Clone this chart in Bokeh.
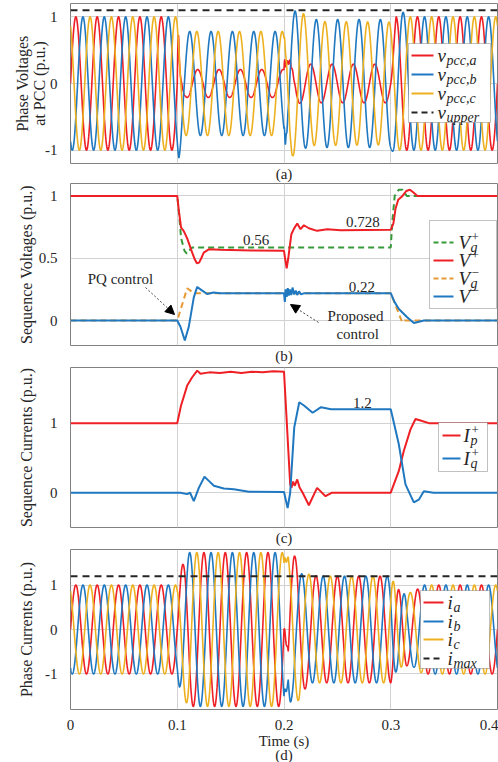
import numpy as np
from bokeh.plotting import figure
from bokeh.layouts import column
from bokeh.models import (Range1d, FixedTicker, Title, Label, BoxAnnotation,
                          Arrow, NormalHead, Span)
from bokeh.embed import file_html
from bokeh.resources import INLINE

# ---------------------------------------------------------------- data
FREQ_HZ = 50.0
T_STOP = 0.4
EVENT_TIMES = [0.1, 0.2, 0.3]
X_TICKS = [0, 0.1, 0.2, 0.3, 0.4]
X_TICK_LABELS = ["0", "0.1", "0.2", "0.3", "0.4"]

# (a) phase voltages at PCC : amplitude key points and phase (deg) per interval
VA_AMP_T = [0, 0.1, 0.103, 0.108, 0.2, 0.202, 0.21, 0.22, 0.3, 0.305, 0.4]
VA_AMP = [1.0, 1.0, 0.30, 0.21, 0.21, 0.35, 0.30, 0.29, 0.29, 1.0, 1.0]
VB_AMP_T = [0, 0.1, 0.1015, 0.106, 0.2, 0.204, 0.2115, 0.22, 0.23, 0.3, 0.302, 0.31, 0.32, 0.4]
VB_AMP = [1.0, 1.0, 1.12, 0.78, 0.78, 1.0, 1.1, 0.97, 0.96, 0.96, 1.05, 1.08, 1.0, 1.0]
VC_AMP_T = [0, 0.1, 0.105, 0.2, 0.205, 0.218, 0.226, 0.3, 0.305, 0.4]
VC_AMP = [1.0, 1.0, 0.78, 0.78, 1.1, 1.05, 0.93, 0.92, 1.0, 1.0]
VA_PHASE = [0, 105, 0, 0]
VB_PHASE = [-120, -120, -95, -120]
VC_PHASE = [120, 120, 120, 120]
V_PHASE_TRANS = [0.002, 0.003, 0.003]
V_UPPER = 1.1

# (b) sequence voltages
VGP_T = [0, 0.1, 0.1018, 0.1036, 0.1068, 0.109, 0.111, 0.114, 0.3, 0.3015, 0.3037, 0.3075, 0.311, 0.315, 0.4]
VGP = [1, 1, 0.85, 0.66, 0.56, 0.537, 0.56, 0.586, 0.586, 0.8, 1.0, 1.05, 1.05, 1.0, 1.0]
VP_T = [0, 0.1, 0.1015, 0.1036, 0.106, 0.1093, 0.114, 0.1165, 0.1184, 0.1205, 0.1225, 0.1248,
        0.1295, 0.14, 0.17, 0.2, 0.201, 0.2025, 0.204, 0.2069, 0.2095, 0.2124, 0.2155, 0.2186,
        0.2233, 0.231, 0.2405, 0.253, 0.3, 0.3025, 0.3045, 0.307, 0.311, 0.3145, 0.318, 0.321,
        0.325, 0.4]
VP = [1, 1, 0.88, 0.745, 0.72, 0.66, 0.545, 0.49, 0.46, 0.465, 0.5, 0.545,
      0.572, 0.568, 0.563, 0.56, 0.5, 0.42, 0.5, 0.693, 0.74, 0.779, 0.733, 0.765,
      0.741, 0.72, 0.733, 0.725, 0.728, 0.78, 0.9, 0.97, 1.0, 1.04, 1.05, 1.03,
      1.0, 1.0]
VGN_T = [0, 0.1, 0.1093, 0.1155, 0.3, 0.3107, 0.313, 0.4]
VGN = [0, 0, 0.26, 0.22, 0.22, -0.013, 0, 0]
VN_T = [0, 0.1, 0.103, 0.1071, 0.1108, 0.1155, 0.1187, 0.1234, 0.128, 0.134, 0.14, 0.2,
        0.2008, 0.2015, 0.2025, 0.2035, 0.2045, 0.2055, 0.2068, 0.208, 0.2095, 0.211,
        0.2124, 0.214, 0.216, 0.219, 0.3, 0.3035, 0.3076, 0.3154, 0.3217, 0.331, 0.4]
VN = [0, 0, -0.05, -0.16, -0.05, 0.186, 0.27, 0.24, 0.213, 0.226, 0.22, 0.22,
      0.15, 0.25, 0.19, 0.26, 0.2, 0.25, 0.205, 0.265, 0.21, 0.24,
      0.205, 0.235, 0.21, 0.22, 0.22, 0.15, 0.093, 0.027, -0.02, 0, 0]

# (c) sequence currents
IP_T = [0, 0.1, 0.1035, 0.1093, 0.114, 0.1187, 0.1218, 0.13, 0.14, 0.15, 0.16, 0.17, 0.18,
        0.19, 0.2, 0.2058, 0.207, 0.2085, 0.21, 0.2124, 0.2145, 0.2175, 0.2233, 0.231,
        0.2389, 0.245, 0.3, 0.3075, 0.3122, 0.3185, 0.3232, 0.3294, 0.3357, 0.4]
IP = [1, 1, 1.25, 1.54, 1.66, 1.755, 1.71, 1.73, 1.72, 1.74, 1.72, 1.74, 1.73,
      1.745, 1.74, 0.12, 0.07, 0.16, 0.1, 0.19, 0.08, 0.0, -0.18, 0.07,
      -0.05, 0.0, 0.0, 0.31, 0.6, 0.91, 1.06, 1.03, 1.0, 1.0]
IQ_T = [0, 0.1, 0.103, 0.1093, 0.112, 0.1155, 0.1202, 0.1255, 0.1296, 0.1343, 0.1436, 0.153,
        0.1671, 0.2, 0.2034, 0.2058, 0.2096, 0.2143, 0.219, 0.2268, 0.2347, 0.244, 0.3,
        0.3075, 0.3138, 0.3216, 0.3263, 0.331, 0.34, 0.4]
IQ = [0, 0, 0, -0.02, 0, -0.12, 0.07, 0.23, 0.17, 0.1, 0.06, 0.05,
      0.015, 0.01, -0.22, 0, 0.94, 1.3, 1.25, 1.15, 1.23, 1.2, 1.2,
      0.7, 0.12, -0.14, -0.1, 0.02, 0, 0]

# (d) phase currents
IA_AMP_T = [0, 0.1, 0.104, 0.11, 0.2, 0.205, 0.212, 0.222, 0.232, 0.3, 0.305, 0.312, 0.322, 0.33, 0.4]
IA_AMP = [1, 1, 1.4, 1.73, 1.73, 1.65, 1.65, 1.25, 1.2, 1.2, 0.95, 0.8, 0.85, 1.0, 1.0]
IB_AMP_T = [0, 0.1, 0.102, 0.11, 0.2, 0.204, 0.212, 0.222, 0.3, 0.305, 0.312, 0.322, 0.33, 0.4]
IB_AMP = [1, 1, 1.3, 1.73, 1.73, 1.75, 1.3, 1.2, 1.2, 0.95, 0.8, 0.85, 1.0, 1.0]
IC_AMP_T = [0, 0.1, 0.104, 0.11, 0.2, 0.205, 0.214, 0.222, 0.232, 0.3, 0.305, 0.312, 0.322, 0.33, 0.4]
IC_AMP = [1, 1, 1.4, 1.73, 1.73, 1.6, 1.6, 1.25, 1.2, 1.2, 0.95, 0.8, 0.85, 1.0, 1.0]
IA_PHASE = [0, 0, -90, 0]
IB_PHASE = [-120, -120, -210, -120]
IC_PHASE = [120, 120, 30, 120]
I_PHASE_TRANS = [0.002, 0.004, 0.015]
I_MAX = 1.2

# damped ringing after the events: (t0, amplitude, decay s, frequency Hz)
VA_RING = [(0.2, 0.12, 0.004, 400)]
VB_RING = [(0.2, 0.10, 0.003, 600)]
VC_RING = [(0.2, 0.06, 0.003, 500)]
IA_RING = [(0.2, 0.10, 0.004, 350)]
IB_RING = [(0.2, 0.12, 0.004, 300)]
IC_RING = [(0.2, 0.10, 0.004, 320)]

# ---------------------------------------------------------------- style
RED = "#ee2026"
BLUE = "#1f78c0"
YELLOW = "#edb120"
GREEN = "#379a3a"
ORANGE = "#e59a33"
BLACK = "#262626"
FONT = "Liberation Serif"
TXT = "#262626"

T = np.linspace(0.0, T_STOP, 4001)


def wave(amp_t, amp, phase, trans, ring):
    a = np.interp(T, amp_t, amp)
    kt, kv = [0.0], [phase[0]]
    for k, te in enumerate(EVENT_TIMES):
        kt += [te, te + trans[k]]
        kv += [phase[k], phase[k + 1]]
    kt.append(T_STOP)
    kv.append(phase[-1])
    ph = np.interp(T, kt, kv)
    y = a * np.sin(2 * np.pi * FREQ_HZ * T + np.radians(ph))
    for t0, amp0, tau, f in ring:
        m = T >= t0
        y[m] += amp0 * np.exp(-(T[m] - t0) / tau) * np.sin(2 * np.pi * f * (T[m] - t0))
    return y


FRAME_L, FRAME_W = 70, 427


def make_panel(yr, yticks, ylabels, ylabel, standoff, frame_h, top, bottom, letter):
    p = figure(frame_width=FRAME_W, frame_height=frame_h,
               x_range=Range1d(0, T_STOP), y_range=Range1d(*yr),
               output_backend="svg", toolbar_location=None,
               min_border=0, min_border_left=FRAME_L, min_border_right=1,
               min_border_top=top, min_border_bottom=bottom,
               background_fill_color="white", border_fill_color="white",
               outline_line_color="#808080", outline_line_width=1)
    p.yaxis.ticker = FixedTicker(ticks=yticks)
    p.yaxis.major_label_overrides = dict(zip(yticks, ylabels))
    p.yaxis.axis_label = ylabel
    p.yaxis.axis_label_standoff = standoff
    p.yaxis.axis_label_text_font = FONT
    p.yaxis.axis_label_text_font_size = "16px"
    p.yaxis.axis_label_text_font_style = "normal"
    p.yaxis.axis_label_text_color = TXT
    p.yaxis.axis_label_text_line_height = 1.0
    for ax in (p.yaxis[0], p.xaxis[0]):
        ax.major_label_text_font = FONT
        ax.major_label_text_font_size = "15px"
        ax.major_label_text_color = TXT
        ax.major_tick_line_color = None
        ax.minor_tick_line_color = None
        ax.axis_line_color = None
    p.yaxis.major_label_standoff = 7
    p.ygrid.ticker = FixedTicker(ticks=yticks)
    p.xgrid.ticker = FixedTicker(ticks=EVENT_TIMES)
    for g in (p.xgrid[0], p.ygrid[0]):
        g.grid_line_color = "#d2d2d2"
        g.grid_line_width = 1
    if letter is not None:
        p.xaxis.visible = False
        p.add_layout(Title(text=letter, align="center", text_font=FONT,
                           text_font_size="15px", text_font_style="normal",
                           text_color=TXT, standoff=0, offset=0), "below")
    return p


def px2data(p, px, py, top, h):
    y0, y1 = p.y_range.start, p.y_range.end
    return ((px - FRAME_L) / FRAME_W * T_STOP, y1 - (py - top) / h * (y1 - y0))


def legend(p, top, h, box, line_x, text_x, items):
    l, tp = px2data(p, box[0], box[1], top, h)
    r, bt = px2data(p, box[2], box[3], top, h)
    p.add_layout(BoxAnnotation(left=l, right=r, top=tp, bottom=bt,
                               fill_color="white", fill_alpha=1.0,
                               line_color="#333333", line_width=1))
    for py, color, dash, main, sub, sup, mw in items:
        x0, y = px2data(p, line_x[0], py, top, h)
        x1, _ = px2data(p, line_x[1], py, top, h)
        p.add_layout(Arrow(x_start=x0, y_start=y, x_end=x1, y_end=y, end=None,
                           line_color=color, line_width=2,
                           line_dash=dash if dash else "solid"))
        xt, _ = px2data(p, text_x, py, top, h)
        p.add_layout(Label(x=xt, y=y, text=main, text_font=FONT,
                           text_font_size="19px", text_font_style="italic",
                           text_color=TXT, text_baseline="middle", text_align="left"))
        if sub:
            p.add_layout(Label(x=xt, y=y, x_offset=mw, y_offset=-5, text=sub,
                               text_font=FONT, text_font_size="14px",
                               text_font_style="italic", text_color=TXT,
                               text_baseline="middle", text_align="left"))
        if sup:
            p.add_layout(Label(x=xt, y=y, x_offset=mw + 1, y_offset=6, text=sup,
                               text_font=FONT, text_font_size="13px",
                               text_color=TXT, text_baseline="middle",
                               text_align="left"))


def note(p, x, y, text):
    p.add_layout(Label(x=x, y=y, text=text, text_font=FONT, text_font_size="15px",
                       text_color=TXT, text_align="center", text_baseline="middle"))


# frame tops on the page: a 3, b 183, c 367, d 549
# ---------------------------------------------------------------- (a)
pa = make_panel((-1.2, 1.2), [-1, 0, 1], ["-1", "0", "1"],
                "Phase Voltages\nat PCC (p.u.)", -6, 160, 3, 19, "(a)")
pa.line(T, wave(VA_AMP_T, VA_AMP, VA_PHASE, V_PHASE_TRANS, VA_RING), line_color=RED, line_width=1.6)
pa.line(T, wave(VB_AMP_T, VB_AMP, VB_PHASE, V_PHASE_TRANS, VB_RING), line_color=BLUE, line_width=1.6)
pa.line(T, wave(VC_AMP_T, VC_AMP, VC_PHASE, V_PHASE_TRANS, VC_RING), line_color=YELLOW, line_width=1.6)
pa.add_layout(Span(location=V_UPPER, dimension="width", line_color=BLACK,
                   line_width=2, line_dash="7 5"))
legend(pa, 3, 160, (408, 43, 490, 122), (411, 433), 437, [
    (55, RED, None, "v", "pcc,a", None, 9),
    (74, BLUE, None, "v", "pcc,b", None, 9),
    (93, YELLOW, None, "v", "pcc,c", None, 9),
    (112, BLACK, "6 4", "v", "upper", None, 9),
])

# ---------------------------------------------------------------- (b)
pb = make_panel((-0.2, 1.1), [0, 0.5, 1], ["0", "0.5", "1"],
                "Sequence Voltages (p.u.)", 1, 162, 1, 19, "(b)")
pb.line(VGP_T, VGP, line_color=GREEN, line_width=2, line_dash="6 4")
pb.line(VP_T, VP, line_color=RED, line_width=2)
pb.line(VGN_T, VGN, line_color=ORANGE, line_width=2, line_dash="6 4")
pb.line(VN_T, VN, line_color=BLUE, line_width=2)
note(pb, 0.1738, 0.645, "0.56")
note(pb, 0.274, 0.79, "0.728")
note(pb, 0.273, 0.272, "0.22")
note(pb, 0.0468, 0.33, "PQ control")
note(pb, 0.267, 0.04, "Proposed")
note(pb, 0.269, -0.11, "control")
xs, ys = px2data(pb, 145, 287, 183, 162)
xe, ye = px2data(pb, 174, 314, 183, 162)
pb.add_layout(Arrow(x_start=xs, y_start=ys, x_end=xe, y_end=ye, line_dash="2 2",
                    line_width=1, line_color="#444444",
                    end=NormalHead(size=9, fill_color="black", line_color="black")))
xs, ys = px2data(pb, 318, 322, 183, 162)
xe, ye = px2data(pb, 290, 304, 183, 162)
pb.add_layout(Arrow(x_start=xs, y_start=ys, x_end=xe, y_end=ye, line_dash="2 2",
                    line_width=1, line_color="#444444",
                    end=NormalHead(size=9, fill_color="black", line_color="black")))
legend(pb, 183, 162, (429, 220, 496, 308), (433, 453), 458, [
    (242, GREEN, "5 3", "V", "g", "+", 12),
    (260, RED, None, "V", None, "+", 12),
    (278, ORANGE, "5 3", "V", "g", "\u2212", 12),
    (296, BLUE, None, "V", None, "\u2212", 12),
])

# ---------------------------------------------------------------- (c)
pc = make_panel((-0.5, 1.8), [0, 1], ["0", "1"],
                "Sequence Currents (p.u.)", 12, 160, 3, 19, "(c)")
pc.line(IP_T, IP, line_color=RED, line_width=2)
pc.line(IQ_T, IQ, line_color=BLUE, line_width=2)
note(pc, 0.2735, 1.29, "1.2")
legend(pc, 367, 160, (438, 422, 487, 471), (442, 460), 463, [
    (435, RED, None, "I", "p", "+", 7),
    (458, BLUE, None, "I", "q", "+", 7),
])

# ---------------------------------------------------------------- (d)
pd = make_panel((-1.8, 1.8), [-1, 0, 1], ["-1", "0", "1"],
                "Phase Currents (p.u.)", 7, 160, 3, 50, None)
pd.xaxis.ticker = FixedTicker(ticks=X_TICKS)
pd.xaxis.major_label_overrides = dict(zip(X_TICKS, X_TICK_LABELS))
pd.xaxis.major_label_standoff = 4
pd.xaxis.axis_label = "Time (s)\n(d)"
pd.xaxis.axis_label_standoff = 0
pd.xaxis.axis_label_text_font = FONT
pd.xaxis.axis_label_text_font_size = "15px"
pd.xaxis.axis_label_text_font_style = "normal"
pd.xaxis.axis_label_text_color = TXT
pd.xaxis.axis_label_text_line_height = 0.9
pd.line(T, wave(IA_AMP_T, IA_AMP, IA_PHASE, I_PHASE_TRANS, IA_RING), line_color=RED, line_width=1.6)
pd.line(T, wave(IB_AMP_T, IB_AMP, IB_PHASE, I_PHASE_TRANS, IB_RING), line_color=BLUE, line_width=1.6)
pd.line(T, wave(IC_AMP_T, IC_AMP, IC_PHASE, I_PHASE_TRANS, IC_RING), line_color=YELLOW, line_width=1.6)
pd.add_layout(Span(location=I_MAX, dimension="width", line_color=BLACK,
                   line_width=2, line_dash="7 5"))
legend(pd, 549, 160, (420, 590, 489, 668), (423, 443), 447, [
    (602, RED, None, "i", "a", None, 6),
    (621, BLUE, None, "i", "b", None, 6),
    (639, YELLOW, None, "i", "c", None, 6),
    (658, BLACK, "6 4", "i", "max", None, 6),
])

layout = column(pa, pb, pc, pd)
open("out.html", "w").write(file_html(layout, INLINE))
